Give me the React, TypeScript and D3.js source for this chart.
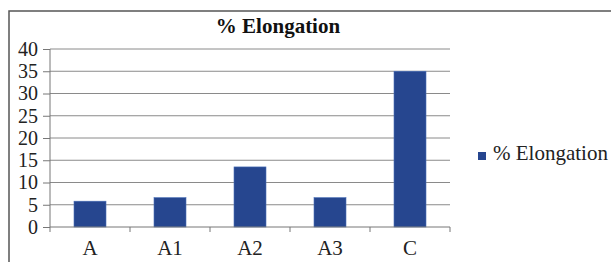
import React from 'react';
import * as d3 from 'd3';

const categories = ['A', 'A1', 'A2', 'A3', 'C'];
const elongation = [5.8, 6.6, 13.5, 6.6, 35.0];
const yTicks = [0, 5, 10, 15, 20, 25, 30, 35, 40];
const seriesName = '% Elongation';

const width = 611;
const height = 262;
const barColor = '#26468f';
const font = "'Liberation Serif', 'DejaVu Serif', serif";

const ElongationChart: React.FC = () => {
  const svgRef = React.useRef<SVGSVGElement>(null);
  const plot = { left: 50, right: 450, top: 49, bottom: 227 };

  React.useEffect(() => {
    if (!svgRef.current) return;
    const svg = d3.select(svgRef.current);
    svg.selectAll('*').remove();

    const x = d3.scaleBand<string>()
      .domain(categories)
      .range([plot.left, plot.right])
      .paddingInner(0.6)
      .paddingOuter(0.3);

    const y = d3.scaleLinear()
      .domain([0, 40])
      .range([plot.bottom, plot.top]);

    // outer frame (runs off the right and bottom edges)
    svg.append('rect')
      .attr('x', 9)
      .attr('y', 11)
      .attr('width', width + 20)
      .attr('height', height + 20)
      .attr('fill', 'white')
      .attr('stroke', '#555')
      .attr('stroke-width', 1.5);

    // title
    svg.append('text')
      .attr('x', 278)
      .attr('y', 33)
      .attr('text-anchor', 'middle')
      .style('font-family', font)
      .attr('font-weight', 'bold')
      .attr('font-size', 21)
      .attr('fill', '#111')
      .text(seriesName);

    // gridlines
    svg.append('g')
      .selectAll('line')
      .data(yTicks.filter(t => t > 0))
      .enter().append('line')
      .attr('x1', plot.left)
      .attr('x2', plot.right)
      .attr('y1', d => y(d))
      .attr('y2', d => y(d))
      .attr('stroke', '#8a8a8a')
      .attr('stroke-width', 1);

    // bars
    svg.append('g')
      .selectAll('rect')
      .data(elongation)
      .enter().append('rect')
      .attr('x', (_, i) => x(categories[i]) || 0)
      .attr('y', d => y(d))
      .attr('width', x.bandwidth())
      .attr('height', d => y(0) - y(d))
      .attr('fill', barColor)
      .attr('stroke', '#4a6fb8')
      .attr('stroke-width', 0.6);

    // y axis
    const yAxis = svg.append('g')
      .attr('transform', `translate(${plot.left},0)`)
      .call(d3.axisLeft(y).tickValues(yTicks).tickSize(7).tickPadding(5).tickSizeOuter(0));
    yAxis.attr('font-family', null);
    yAxis.select('.domain').attr('stroke', '#777').attr('d', `M0,${plot.top}V${plot.bottom + 5}`);
    yAxis.selectAll('.tick line').attr('stroke', '#777');
    yAxis.selectAll('.tick text')
      .style('font-family', font)
      .attr('font-size', 20)
      .attr('fill', '#222');

    // x axis
    const xAxis = svg.append('g')
      .attr('transform', `translate(0,${plot.bottom})`);
    xAxis.append('line')
      .attr('x1', plot.left)
      .attr('x2', plot.right)
      .attr('stroke', '#777');
    const step = x.step();
    xAxis.selectAll('.sep')
      .data(categories)
      .enter().append('line')
      .attr('class', 'sep')
      .attr('x1', d => (x(d) || 0) + x.bandwidth() / 2 + step / 2)
      .attr('x2', d => (x(d) || 0) + x.bandwidth() / 2 + step / 2)
      .attr('y1', 0)
      .attr('y2', 5)
      .attr('stroke', '#777');
    xAxis.selectAll('.lbl')
      .data(categories)
      .enter().append('text')
      .attr('class', 'lbl')
      .attr('x', d => (x(d) || 0) + x.bandwidth() / 2)
      .attr('y', 28)
      .attr('text-anchor', 'middle')
      .style('font-family', font)
      .attr('font-size', 21)
      .attr('fill', '#222')
      .text(d => d);

    // legend
    const legend = svg.append('g').attr('transform', 'translate(478,152)');
    legend.append('rect')
      .attr('width', 8)
      .attr('height', 8)
      .attr('fill', barColor);
    legend.append('text')
      .attr('x', 15)
      .attr('y', 8)
      .style('font-family', font)
      .attr('font-size', 21)
      .attr('fill', '#222')
      .text(seriesName);
  }, []);

  return (
    <svg
      ref={svgRef}
      width={width}
      height={height}
      style={{ position: 'absolute', left: 0, top: 0, background: 'white' }}
    />
  );
};

export default function App() {
  return <ElongationChart />;
}
